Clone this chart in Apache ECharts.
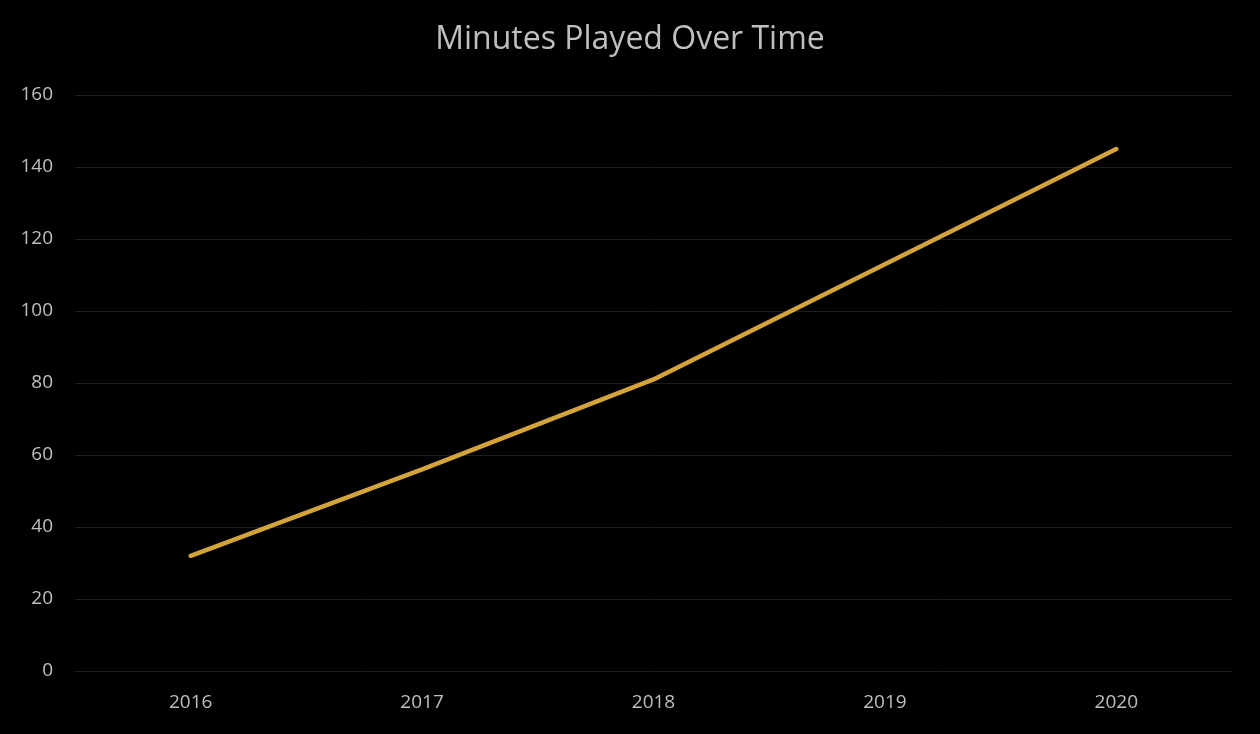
<!DOCTYPE html>
<html>
<head>
<meta charset="utf-8">
<script src="https://cdn.jsdelivr.net/npm/echarts@6/dist/echarts.min.js"></script>
<style>
html,body{margin:0;padding:0;background:#000;}
#chart{width:1260px;height:734px;}
</style>
</head>
<body>
<div id="chart"></div>
<script>
const categories = ['2016', '2017', '2018', '2019', '2020'];
const minutesPlayed = [32, 56, 81, 113, 145];
const yTicks = [0, 20, 40, 60, 80, 100, 120, 140, 160];

const chart = echarts.init(document.getElementById('chart'));
chart.setOption({
  backgroundColor: '#000000',
  animation: false,
  title: {
    text: 'Minutes Played Over Time',
    left: 'center',
    top: 19,
    textStyle: { color: '#BFBFBF', fontFamily: 'Open Sans', fontSize: 32, fontWeight: 'normal' }
  },
  grid: { left: 75, right: 28, top: 95, bottom: 63 },
  xAxis: {
    type: 'category',
    data: categories,
    boundaryGap: true,
    axisLine: { show: true, lineStyle: { color: '#1e1e1e' } },
    axisTick: { show: false },
    axisLabel: { color: '#BFBFBF', fontFamily: 'Open Sans', fontSize: 19, margin: 22 }
  },
  yAxis: {
    type: 'value',
    min: yTicks[0],
    max: yTicks[yTicks.length - 1],
    interval: 20,
    axisLine: { show: false },
    axisTick: { show: false },
    axisLabel: { color: '#BFBFBF', fontFamily: 'Open Sans', fontSize: 19, margin: 22 },
    splitLine: { lineStyle: { color: '#1e1e1e', width: 1 } }
  },
  series: [{
    type: 'line',
    data: minutesPlayed,
    symbol: 'none',
    lineStyle: { color: '#D4A33C', width: 4.5, cap: 'round' },
    itemStyle: { color: '#D4A33C' }
  }]
});
</script>
</body>
</html>
